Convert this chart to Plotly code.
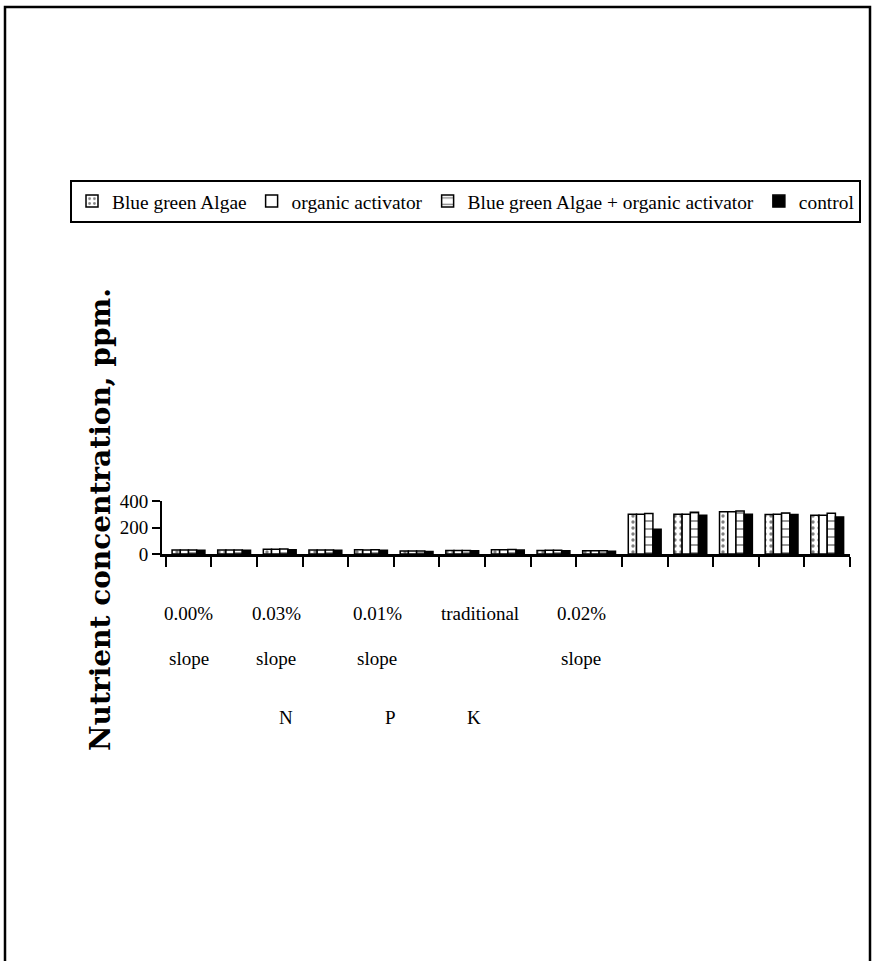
import plotly.graph_objects as go

nutrients = ["N", "P", "K"]
slopes = ["0.00% slope", "0.03% slope", "0.01% slope", "traditional", "0.02% slope"]
categories = [f"{n} | {s}" for n in nutrients for s in slopes]

series_names = ["Blue green Algae", "organic activator",
                "Blue green Algae + organic activator", "control"]
bga = [30, 31, 36, 30, 32, 22, 26, 32, 27, 24, 300, 300, 318, 298, 292]
oa = [30, 30, 35, 30, 31, 22, 26, 33, 28, 24, 300, 300, 318, 300, 292]
bga_oa = [31, 31, 38, 31, 33, 22, 27, 34, 28, 25, 305, 315, 325, 310, 307]
control = [28, 28, 32, 28, 28, 18, 24, 30, 25, 20, 187, 292, 300, 298, 280]

y_ticks = [0, 200, 400]
label_rows = [["0.00%", "0.03%", "0.01%", "traditional", "0.02%"],
              ["slope", "slope", "slope", "", "slope"]]
label_pos = [0.0, 1.92, 4.14, 6.39, 8.61]
nut_pos = [2.14, 4.43, 6.26]

FONT = "Liberation Serif"
W, H = 876, 961
L, R, T, B = 5, 6, 7, 0
pw, ph = W - L - R, H - T - B

def px_x(px):
    return (px - L) / pw

def px_y(py):
    return (H - B - py) / ph

fig = go.Figure()
styles = [
    dict(color="white", line=dict(color="black", width=1.5),
         pattern=dict(shape=".", fgcolor="black", bgcolor="white", size=6, solidity=0.25)),
    dict(color="white", line=dict(color="black", width=1.5)),
    dict(color="white", line=dict(color="black", width=1.5),
         pattern=dict(shape="-", fgcolor="black", bgcolor="white", size=8, solidity=0.2)),
    dict(color="black", line=dict(color="black", width=1.5)),
]
for name, vals, st in zip(series_names, [bga, oa, bga_oa, control], styles):
    fig.add_trace(go.Bar(x=categories, y=vals, name=name, marker=st))

annotations = []
for row, py in zip(label_rows, [613, 658]):
    for txt, xp in zip(row, label_pos):
        if txt:
            annotations.append(dict(x=xp, xref="x", y=px_y(py), yref="paper",
                                    text=txt, showarrow=False, xanchor="center",
                                    yanchor="middle",
                                    font=dict(family=FONT, size=19, color="black")))
for txt, xp in zip(nutrients, nut_pos):
    annotations.append(dict(x=xp, xref="x", y=px_y(717), yref="paper",
                            text=txt, showarrow=False, xanchor="center", yanchor="middle",
                            font=dict(family=FONT, size=19, color="black")))
annotations.append(dict(x=px_x(100), xref="paper", y=px_y(520), yref="paper",
                        text="<b>Nutrient concentration, ppm.</b>", textangle=-90,
                        showarrow=False, xanchor="center", yanchor="middle",
                        font=dict(family="DejaVu Serif", size=28, color="black")))

fig.update_layout(
    width=W, height=H,
    margin=dict(l=L, r=R, t=T, b=B, autoexpand=False),
    paper_bgcolor="white", plot_bgcolor="white",
    barmode="group", bargap=0.28, bargroupgap=0,
    font=dict(family=FONT, size=18, color="black"),
    showlegend=True,
    legend=dict(orientation="h", x=px_x(70), y=px_y(180),
                xanchor="left", yanchor="top",
                bordercolor="black", borderwidth=2, bgcolor="white",
                font=dict(family=FONT, size=19.4, color="black"),
                itemwidth=30, traceorder="normal"),
    annotations=annotations,
    shapes=[dict(type="rect", xref="paper", yref="paper",
                 x0=0, x1=1, y0=-0.05, y1=1,
                 line=dict(color="black", width=2.5), layer="below")],
)
fig.update_xaxes(type="category", tickson="boundaries", ticks="outside", ticklen=10,
                 domain=[px_x(162), px_x(850)],
                 tickwidth=2, tickcolor="black", showticklabels=False,
                 showline=True, linecolor="black", linewidth=2.5, showgrid=False,
                 zeroline=False)
fig.update_yaxes(range=[0, 400], tickvals=y_ticks, ticks="outside", ticklen=8,
                 domain=[px_y(554), px_y(501)],
                 tickwidth=2, tickcolor="black", showline=True, linecolor="black",
                 linewidth=2, showgrid=False, zeroline=False,
                 tickfont=dict(family=FONT, size=19, color="black"))

fig.write_html("out.html", config={"displayModeBar": False},
               post_script="document.body.style.margin='0';"
                           "document.body.style.overflow='hidden';")
